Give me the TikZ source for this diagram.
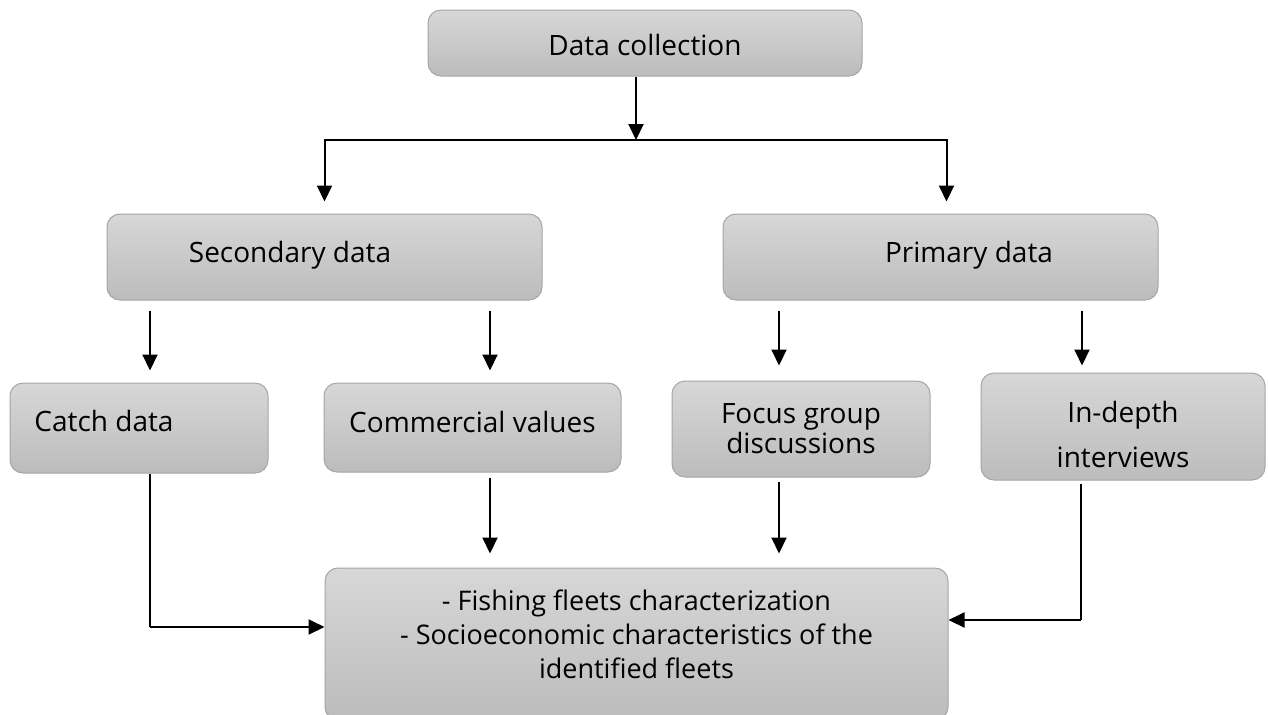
\documentclass[tikz,border=0pt]{standalone}
\usepackage{fontspec}
\setmainfont{Open Sans}
\usetikzlibrary{arrows.meta,shapes,calc}

\definecolor{boxtop}{RGB}{215,215,215}
\definecolor{boxbottom}{RGB}{188,188,188}
\definecolor{boxline}{RGB}{165,165,165}

\begin{document}
\begin{tikzpicture}[x=0.5pt, y=-0.5pt,
    every node/.style={font=\fontsize{14pt}{15pt}\selectfont},
    box/.style={rectangle, rounded corners=6.5pt, draw=boxline, line width=0.5pt,
        top color=boxtop, bottom color=boxbottom, align=center, inner sep=0pt},
    lift/.style={text height=10.5pt, text depth=#1},
    arr/.style={-{Triangle[length=8pt,width=7.5pt]}, line width=1pt},
    thinline/.style={line width=0.6pt}]
    \useasboundingbox (0,0) rectangle (1268,714);

    % Boxes
    \node[box, minimum width=217pt, minimum height=33pt, text height=12pt, text depth=0pt] (coll) at (645,43) {Data collection};
    \node[box, lift=5.5pt, minimum width=217.5pt, minimum height=43pt] (sec) at (324.5,257) {Secondary data\hspace*{34.5pt}};
    \node[box, lift=5pt, minimum width=217.5pt, minimum height=43pt] (prim) at (940.5,257) {\hspace*{28.5pt}Primary data};
    \node[box, lift=7.5pt, minimum width=129pt, minimum height=45pt] (catch) at (139,428) {Catch data\hspace*{35pt}};
    \node[box, lift=6pt, minimum width=148.5pt, minimum height=44.5pt] (comm) at (472.5,427.5) {Commercial values};
    \node[box, minimum width=129pt, minimum height=48pt] (focus) at (801,429) {Focus group\\discussions};
    \node[box, minimum width=142pt, minimum height=53.5pt, text height=40.5pt, text depth=0pt] (indepth) at (1123,426.5) {In-depth\\[7.5pt]interviews};
    \node[box, minimum width=311.5pt, minimum height=76pt, text depth=10pt,
        font=\fontsize{13.5pt}{17pt}\selectfont] (result) at (636.5,644)
        {- Fishing fleets characterization\\- Socioeconomic characteristics of the\\identified fleets};

    % Split below data collection
    \coordinate (split) at (636,140);
    \draw[arr] (split |- coll.south) -- (split);
    \draw[arr, shorten >=6pt] (split) -| (sec.north);
    \draw[arr, shorten >=6pt] (split) -| ([xshift=3pt]prim.north);

    % Second level
    \draw[arr, shorten <=5pt, shorten >=6pt] ([xshift=5.5pt]catch.north |- sec.south) -- ([xshift=5.5pt]catch.north);
    \draw[arr, shorten <=5pt, shorten >=6pt] ([xshift=8.75pt]comm.north |- sec.south) -- ([xshift=8.75pt]comm.north);
    \draw[arr, shorten <=5pt, shorten >=7.5pt] ([xshift=-11pt]focus.north |- prim.south) -- ([xshift=-11pt]focus.north);
    \draw[arr, shorten <=5pt, shorten >=3.5pt] ([xshift=-20.5pt]indepth.north |- prim.south) -- ([xshift=-20.5pt]indepth.north);

    % Into the result box
    \draw[arr, shorten <=2.5pt, shorten >=7pt] ([xshift=8.75pt]comm.south) -- ([xshift=8.75pt]comm.south |- result.north);
    \draw[arr, shorten <=2pt, shorten >=7pt] ([xshift=-11pt]focus.south) -- ([xshift=-11pt]focus.south |- result.north);
    \coordinate (cbend) at (150,627);
    \draw[thinline] ([xshift=5.5pt]catch.south) -- (cbend);
    \draw[arr] (cbend) -- (cbend -| result.west);
    \coordinate (ibend) at (1081,620);
    \draw[thinline, shorten <=1.5pt] (ibend |- indepth.south) -- (ibend);
    \draw[arr] (ibend) -- (ibend -| result.east);
\end{tikzpicture}
\end{document}
